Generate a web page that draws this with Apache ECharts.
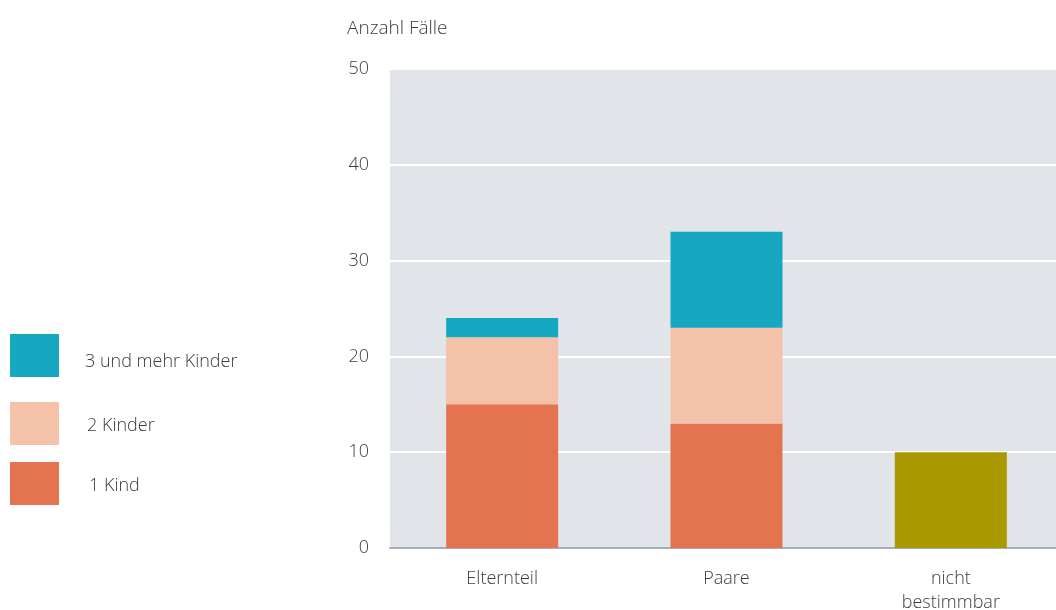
<!DOCTYPE html>
<html>
<head>
<meta charset="utf-8">
<script src="https://cdn.jsdelivr.net/npm/echarts@6/dist/echarts.min.js"></script>
<style>
  html, body { margin: 0; padding: 0; background: #fff; }
  #chart { width: 1056px; height: 610px; }
</style>
</head>
<body>
<div id="chart"></div>
<script>
// Haushaltsform der Fälle nach Anzahl der Kinder
const categories = ['Elternteil', 'Paare', 'nicht\nbestimmbar'];
const einKind = [15, 13, '-'];
const zweiKinder = [7, 10, '-'];
const dreiUndMehr = [2, 10, '-'];
const nichtBestimmbar = ['-', '-', 10];
const yTicks = [0, 10, 20, 30, 40, 50];

const FONT = '"Open Sans", "Segoe UI", sans-serif';
const TEXT = '#3c3c3c';
const FS = 18;

const chart = echarts.init(document.getElementById('chart'), null, { renderer: 'canvas' });

function legendFor(name, top, padTop, left) {
  return {
    data: [name],
    orient: 'vertical',
    left: 10,
    top: top,
    padding: 0,
    itemWidth: 49,
    itemHeight: 43,
    itemGap: 0,
    icon: 'rect',
    selectedMode: false,
    formatter: '{t|{name}}',
    textStyle: {
      fontFamily: FONT, fontSize: FS, fontWeight: 300, color: TEXT,
      rich: {
        t: { fontFamily: FONT, fontSize: FS, fontWeight: 300, color: TEXT, padding: [padTop, 0, 0, left] }
      }
    }
  };
}

chart.setOption({
  animation: false,
  title: {
    text: 'Anzahl Fälle',
    left: 342,
    top: 14,
    textStyle: { fontFamily: FONT, fontSize: FS + 1, fontWeight: 300, color: TEXT }
  },
  legend: [
    legendFor('3 und mehr Kinder', 334, 12, 21),
    legendFor('2 Kinder', 402, 4, 23),
    legendFor('1 Kind', 462, 4, 25)
  ],
  grid: {
    left: 390, right: -7, top: 69, bottom: 62,
    outerBoundsMode: 'none',
    containLabel: false,
    backgroundColor: '#e1e4e8', show: true, borderWidth: 0
  },
  xAxis: {
    type: 'category',
    data: categories,
    axisTick: { show: false },
    axisLine: { lineStyle: { color: '#a5aeb6', width: 2 } },
    axisLabel: { fontFamily: FONT, fontSize: FS, fontWeight: 300, color: TEXT, margin: 19, lineHeight: 24 }
  },
  yAxis: {
    type: 'value',
    min: 0,
    max: 50,
    interval: 10,
    axisLine: { show: false },
    axisTick: { show: false },
    splitLine: { lineStyle: { color: '#ffffff', width: 2 } },
    axisLabel: {
      fontFamily: FONT, fontSize: FS, fontWeight: 300, color: TEXT, margin: 21,
      formatter: v => (yTicks.includes(v) ? String(v) : '')
    }
  },
  series: [
    { name: '1 Kind', type: 'bar', stack: 'f', data: einKind, barWidth: 112, itemStyle: { color: '#e4744f' } },
    { name: '2 Kinder', type: 'bar', stack: 'f', data: zweiKinder, itemStyle: { color: '#f4c2a8' } },
    { name: '3 und mehr Kinder', type: 'bar', stack: 'f', data: dreiUndMehr, itemStyle: { color: '#16a7c1' } },
    { name: 'nicht bestimmbar', type: 'bar', stack: 'f', data: nichtBestimmbar, itemStyle: { color: '#a89a00' } }
  ]
});
</script>
</body>
</html>
